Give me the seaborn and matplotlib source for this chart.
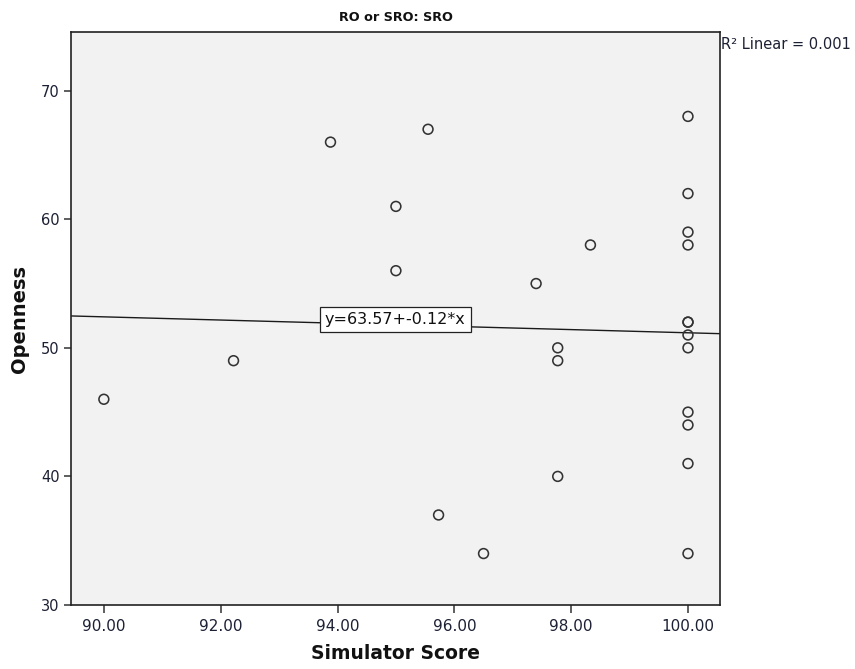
import numpy as np
import pandas as pd
import matplotlib
matplotlib.use("Agg")
import matplotlib.pyplot as plt
import seaborn as sns

# Simulator score vs. openness for the SRO group
simulator_score = [90.00, 92.22, 93.88, 95.00, 95.00, 95.55, 95.73, 96.50,
                   97.40, 97.77, 97.77, 97.77, 98.33,
                   100.00, 100.00, 100.00, 100.00, 100.00, 100.00,
                   100.00, 100.00, 100.00, 100.00, 100.00, 100.00]
openness = [46, 49, 66, 61, 56, 67, 37, 34,
            55, 50, 49, 40, 58,
            68, 62, 59, 58, 52, 52,
            51, 50, 45, 44, 41, 34]

fit_intercept = 63.57
fit_slope = -0.124
r_squared = 0.001

x_ticks = [90, 92, 94, 96, 98, 100]
y_ticks = [30, 40, 50, 60, 70]

df = pd.DataFrame({"Simulator Score": simulator_score, "Openness": openness})

sns.set_theme(style="white")
plt.rcParams["font.family"] = ["DejaVu Sans"]

fig = plt.figure(figsize=(8.55, 6.69), dpi=100)
ax = fig.add_axes([0.0830, 0.0957, 0.7591, 0.856])
ax.set_facecolor("#f2f2f2")

sns.scatterplot(data=df, x="Simulator Score", y="Openness", ax=ax,
                marker="o", s=50, facecolor="none", edgecolor="#333333",
                linewidth=1.15, zorder=3)

ax.set_xlim(89.437, 100.548)
ax.set_ylim(30, 74.54)

# fitted linear trend
ax.axline((0, fit_intercept), slope=fit_slope, color="#1a1a1a", lw=1.0, zorder=2)

eq_x = 94.99
eq_y = fit_intercept + fit_slope * eq_x + 0.4
ax.text(eq_x, eq_y, f"y={fit_intercept:.2f}+{fit_slope:.2f}*x",
        ha="center", va="center", fontsize=11.5, color="#111111", zorder=4,
        bbox=dict(boxstyle="square,pad=0.3", facecolor="white",
                  edgecolor="#222222", linewidth=0.9))

ax.set_xticks(x_ticks)
ax.set_xticklabels([f"{v:.2f}" for v in x_ticks])
ax.set_yticks(y_ticks)
ax.set_yticklabels([str(v) for v in y_ticks])
ax.tick_params(axis="both", which="both", direction="out", length=5, width=1.1,
               color="#333333", labelsize=10.5, labelcolor="#1c2033",
               bottom=True, left=True, top=False, right=False, pad=3)
ax.tick_params(axis="x", length=6, pad=4, labelsize=11)

for sp in ax.spines.values():
    sp.set_color("#222222")
    sp.set_linewidth(1.2)

ax.set_xlabel("Simulator Score", fontsize=13.5, fontweight="bold", color="#111111", labelpad=7)
ax.set_ylabel("Openness", fontsize=14, fontweight="bold", color="#111111", labelpad=9)
ax.set_title("RO or SRO: SRO", fontsize=9.2, fontweight="bold", color="#111111", pad=8)

fig.text(0.843, 0.934, f"R² Linear = {r_squared:.3f}", fontsize=10.5, color="#1c2033",
         ha="left", va="center")

fig.savefig("out.png", dpi=100, facecolor="white")
